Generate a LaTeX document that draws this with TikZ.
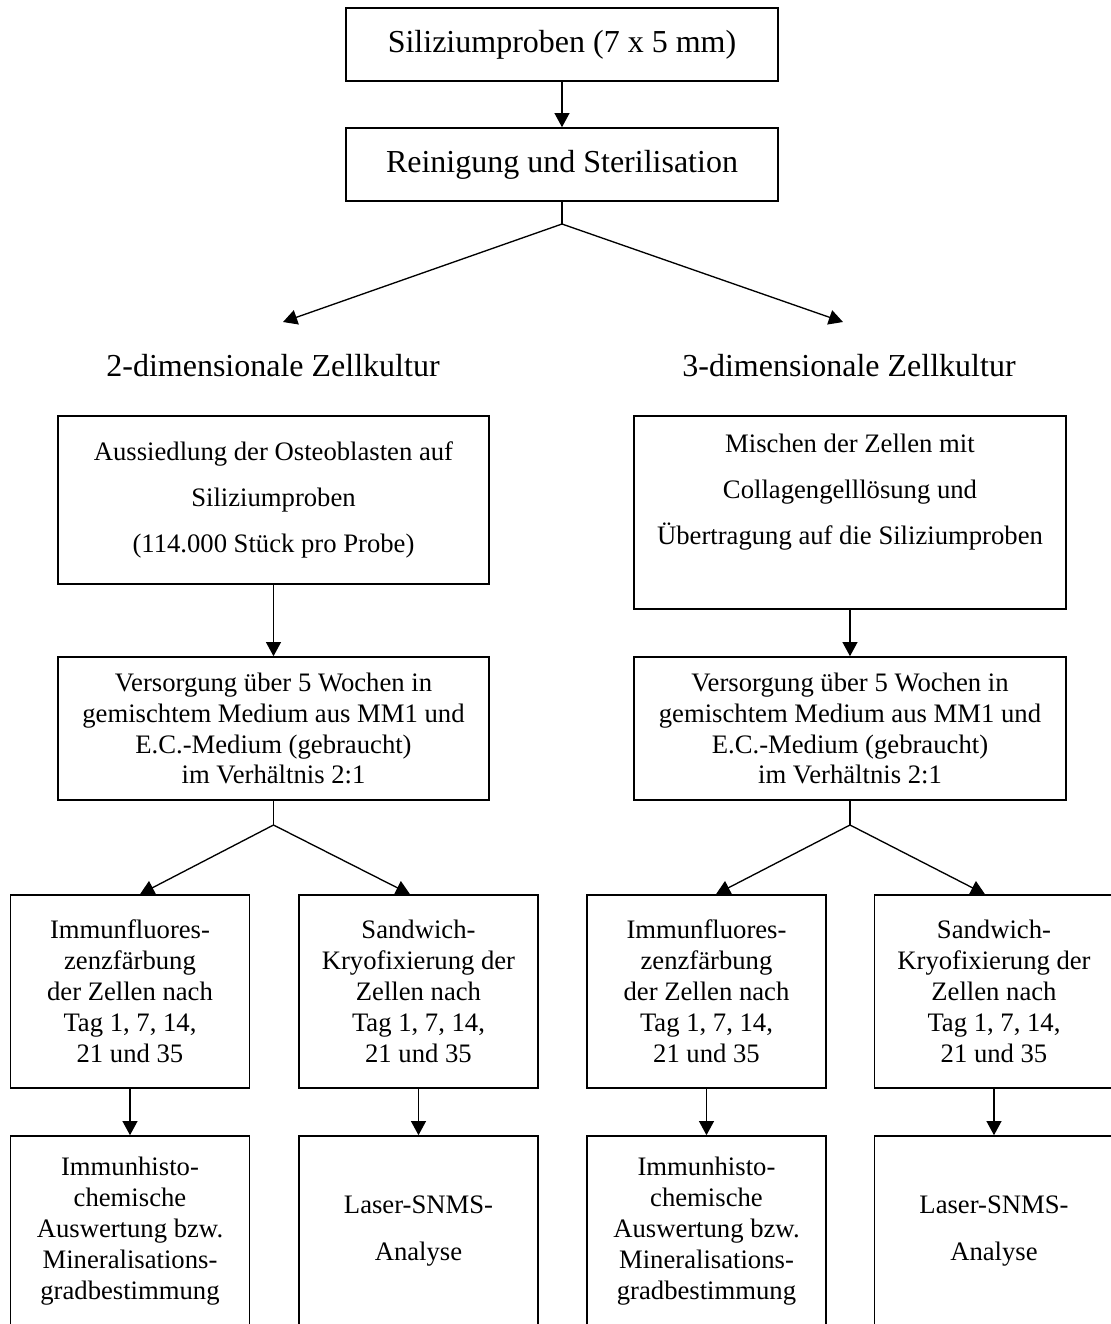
\documentclass[tikz,border=0pt]{standalone}
\usepackage{fontspec}
\setmainfont{Liberation Serif}
\usepackage{tikz}
\usetikzlibrary{arrows.meta,calc}

\newdimen\px
\px=0.375pt

\begin{document}
\begin{tikzpicture}[x=1\px,y=-1\px,
	box/.style={draw,line width=0.6pt,align=center,inner sep=0pt,
		font=\fontsize{10}{11.6}\selectfont},
	wide/.style={font=\fontsize{10}{17.4}\selectfont},
	big/.style={font=\fontsize{12}{14}\selectfont},
	conn/.style={line width=0.5pt,-{Triangle[length=5.3pt,width=5.6pt]}}]
	\clip (0,0) rectangle (1111,1324);

	\node[box,big,minimum width=432\px,minimum height=73\px] (probe) at (562,44.5) {Siliziumproben (7 x 5 mm)};
	\node[box,big,minimum width=432\px,minimum height=73\px] (clean) at (562,164.5) {Reinigung und Sterilisation};

	\coordinate (split) at (562,224);
	\coordinate (to2d) at (283,322);
	\coordinate (to3d) at (843,322);

	\node[big] (lab2d) at (273,366) {2-dimensionale Zellkultur};
	\node[big] (lab3d) at (849,366) {3-dimensionale Zellkultur};

	\node[box,wide,minimum width=431\px,minimum height=168\px] (seed2d) at (273.5,500)
		{Aussiedlung der Osteoblasten auf\\ Siliziumproben\\ (114.000 Stück pro Probe)};
	\node[box,wide,minimum width=432\px,minimum height=193\px] (seed3d) at (850,512.5)
		{Mischen der Zellen mit\\ Collagengelllösung und\\ Übertragung auf die Siliziumproben\\ \mbox{}};

	\node[box,minimum width=431\px,minimum height=143\px] (care2d) at (273.5,728.5)
		{Versorgung über 5 Wochen in\\ gemischtem Medium aus MM1 und\\ E.C.-Medium (gebraucht)\\ im Verhältnis 2:1};
	\node[box,minimum width=432\px,minimum height=143\px] (care3d) at (850,728.5)
		{Versorgung über 5 Wochen in\\ gemischtem Medium aus MM1 und\\ E.C.-Medium (gebraucht)\\ im Verhältnis 2:1};

	\coordinate (split2d) at (273.5,825);
	\coordinate (split3d) at (850,825);

	% Faerbung / Kryofixierung
	\node[box,minimum width=239\px,minimum height=193\px] (if2d) at (130,991.5)
		{Immunfluores-\\ zenzfärbung\\ der Zellen nach\\ Tag 1, 7, 14,\\ 21 und 35};
	\node[box,minimum width=239\px,minimum height=193\px] (kryo2d) at (418.5,991.5)
		{Sandwich-\\ Kryofixierung der\\ Zellen nach\\ Tag 1, 7, 14,\\ 21 und 35};
	\node[box,minimum width=239\px,minimum height=193\px] (if3d) at (706.5,991.5)
		{Immunfluores-\\ zenzfärbung\\ der Zellen nach\\ Tag 1, 7, 14,\\ 21 und 35};
	\node[box,minimum width=239\px,minimum height=193\px] (kryo3d) at (994,991.5)
		{Sandwich-\\ Kryofixierung der\\ Zellen nach\\ Tag 1, 7, 14,\\ 21 und 35};

	% Auswertung
	\node[box,minimum width=239\px,minimum height=190\px] (ih2d) at (130,1231)
		{Immunhisto-\\ chemische\\ Auswertung bzw.\\ Mineralisations-\\ gradbestimmung};
	\node[box,wide,minimum width=239\px,minimum height=190\px] (snms2d) at (418.5,1231)
		{Laser-SNMS-\\ Analyse};
	\node[box,minimum width=239\px,minimum height=190\px] (ih3d) at (706.5,1231)
		{Immunhisto-\\ chemische\\ Auswertung bzw.\\ Mineralisations-\\ gradbestimmung};
	\node[box,wide,minimum width=239\px,minimum height=190\px] (snms3d) at (994,1231)
		{Laser-SNMS-\\ Analyse};

	\draw[conn] (probe) -- (clean);
	\draw[line width=0.5pt] (clean) -- (split);
	\draw[conn] (split) -- (to2d);
	\draw[conn] (split) -- (to3d);

	\draw[conn] (seed2d) -- (care2d);
	\draw[conn] (seed3d) -- (care3d);

	\draw[line width=0.5pt] (care2d) -- (split2d);
	\draw[line width=0.5pt] (care3d) -- (split3d);
	\draw[conn] (split2d) -- ($(if2d.north)+(10,0)$);
	\draw[conn] (split2d) -- ($(kryo2d.north)+(-8.5,0)$);
	\draw[conn] (split3d) -- ($(if3d.north)+(9.5,0)$);
	\draw[conn] (split3d) -- ($(kryo3d.north)+(-9,0)$);

	\draw[conn] (if2d) -- (ih2d);
	\draw[conn] (kryo2d) -- (snms2d);
	\draw[conn] (if3d) -- (ih3d);
	\draw[conn] (kryo3d) -- (snms3d);
\end{tikzpicture}
\end{document}
